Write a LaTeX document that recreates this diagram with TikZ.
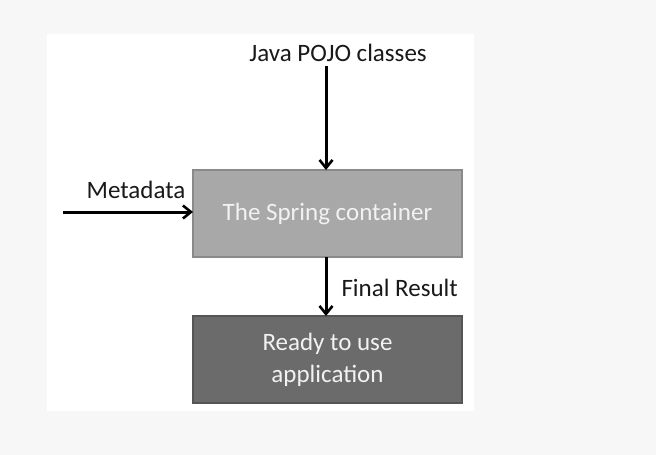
\documentclass[tikz,border=0pt]{standalone}
\usepackage{fontspec}
\setmainfont{Carlito}
\usetikzlibrary{arrows.meta}

\definecolor{boxlight}{HTML}{A8A8A8}
\definecolor{boxlightline}{HTML}{8A8A8A}
\definecolor{boxdark}{HTML}{6B6B6B}
\definecolor{boxdarkline}{HTML}{555555}
\definecolor{boxtext}{HTML}{F2F2F2}

\tikzset{
  stagebox/.style={draw, line width=2pt, minimum width=269pt, minimum height=87pt,
    inner sep=0pt, outer sep=0pt, align=center, text=boxtext, font=\fontsize{25}{32}\selectfont},
  flow/.style={line width=3pt, -{Straight Barb[length=8pt, width=13pt, line width=2.6pt]}},
  caption/.style={inner sep=0pt, font=\fontsize{25}{30}\selectfont, text=black!90}
}

\begin{document}
\begin{tikzpicture}[x=1pt, y=-1pt]
        \useasboundingbox (0,0) rectangle (656,455);
        \fill[black!3] (0,0) rectangle (656,455);
        \fill[white] (47,34) rectangle (474,411);

        \node[stagebox, fill=boxlight, draw=boxlightline] (container) at (327.5,213.5) {The Spring container};
        \node[stagebox, fill=boxdark, draw=boxdarkline] (app) at (327.5,359.5) {Ready to use\\application};

        \node[caption] (pojo) at (338,53) {Java POJO classes};
        \node[caption] (meta) at (136,190) {Metadata};
        \coordinate (metain) at (63,212);
        \coordinate (pojoout) at (326,66);

        \draw[flow] (pojoout) -- (pojoout |- container.north);
        \draw[flow] (metain) -- (metain -| container.west);
        \draw[flow] (pojoout |- container.south) -- (pojoout |- app.north)
          node[caption, midway, anchor=west, xshift=14pt, yshift=-1pt] (result) {Final Result};
      \end{tikzpicture}
\end{document}
